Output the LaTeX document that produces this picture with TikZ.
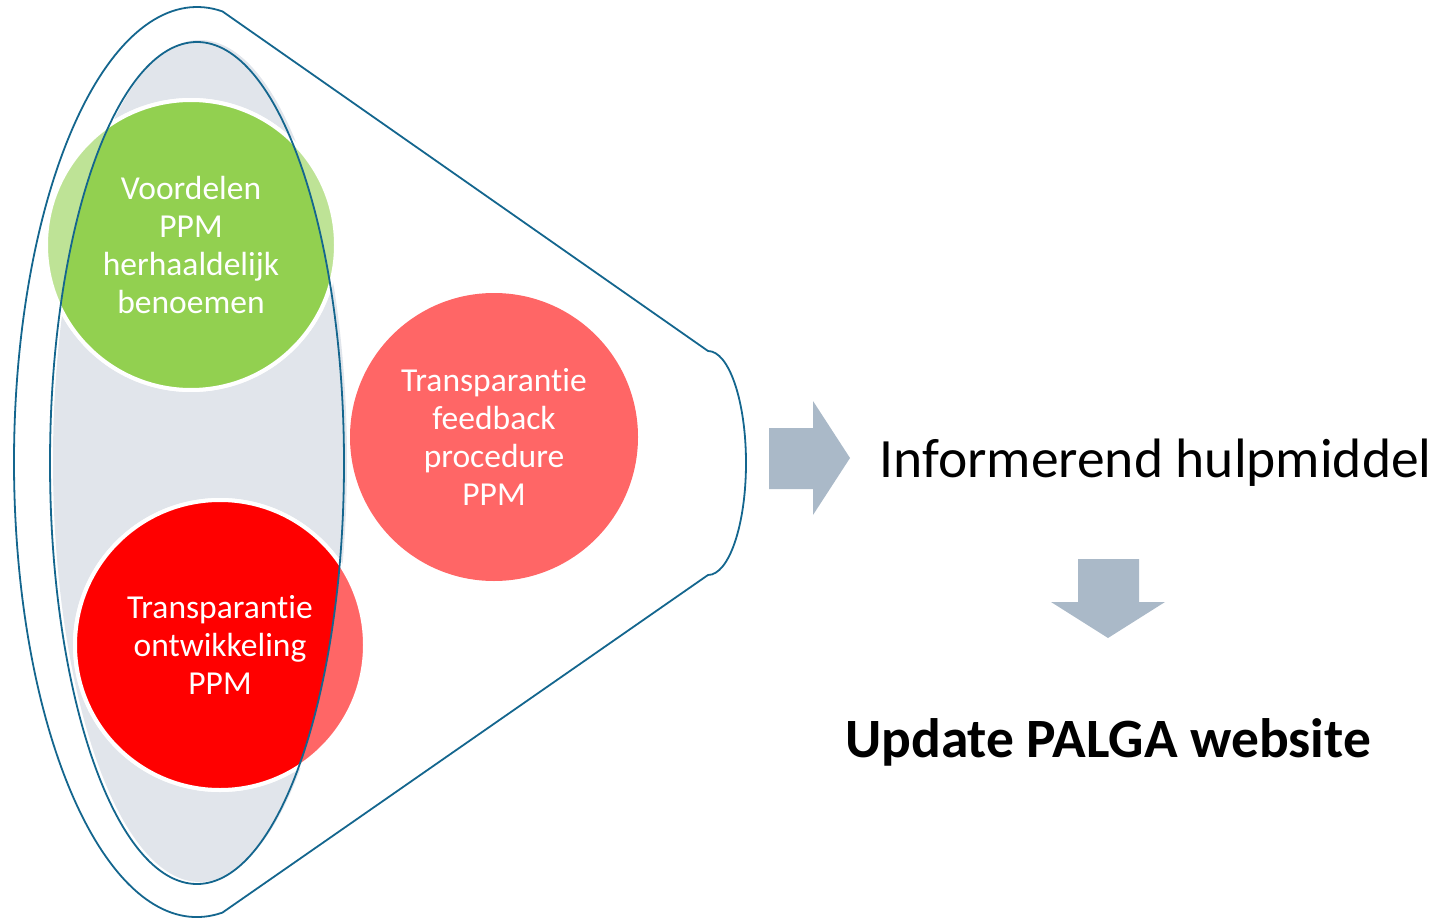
\documentclass[tikz,border=0pt]{standalone}
\usepackage{fontspec}
\setmainfont{Carlito}[Ligatures=NoCommon]
\usepackage{tikz}
\usetikzlibrary{positioning}
\definecolor{funnelline}{RGB}{20,102,142}
\definecolor{funnelgray}{RGB}{225,229,235}
\definecolor{arrowgray}{RGB}{170,185,200}
\definecolor{ppmgreen}{RGB}{146,208,80}
\definecolor{ppmgreenlt}{RGB}{190,227,150}
\definecolor{ppmred}{RGB}{255,0,0}
\definecolor{ppmredlt}{RGB}{255,102,102}
\tikzstyle{bubble} = [circle, draw=white, line width=4pt, minimum size=290pt, inner sep=0pt, text=white, align=center, font=\fontsize{33.5}{38}\selectfont]
\tikzstyle{funnel} = [draw=funnelline, line width=1.8pt]
\tikzstyle{blockarrow} = [fill=arrowgray]
\tikzstyle{result} = [text=black, font=\fontsize{55.5}{64}\selectfont]

\begin{document}
\begin{tikzpicture}[x=1pt, y=-1pt]
	\useasboundingbox (0,0) rectangle (1448,920);
	% inner funnel mouth
	\fill [funnelgray] (200,461) ellipse [x radius=147, y radius=421];
	% place nodes
	\node [bubble, fill=ppmgreenlt] (Voordelen) at (191,245) {};
	\node [bubble, fill=ppmredlt] (Ontwikkeling) at (220,645) {};
	\node [bubble, draw=none, minimum size=288pt, fill=ppmredlt] (Feedback) at (494,437)
		{Transparantie\\feedback\\procedure\\PPM};
	\begin{scope}
		\clip (197,463) ellipse [x radius=147, y radius=421];
		\node [bubble, fill=ppmgreen] at (Voordelen) {};
		\node [bubble, fill=ppmred] at (Ontwikkeling) {};
	\end{scope}
	\node [bubble, draw=none, fill=none] at (Voordelen) {Voordelen\\PPM\\herhaaldelijk\\benoemen};
	\node [bubble, draw=none, fill=none] at (Ontwikkeling) {Transparantie\\ontwikkeling\\PPM};

	% funnel outline
	\draw [funnel] (197,462) ++(82:183 and 455) arc [start angle=82, end angle=278, x radius=183, y radius=455]
		-- (708,351) arc [start angle=-90, end angle=90, x radius=38, y radius=112] -- cycle;
	\draw [funnel] (197,463) ellipse [x radius=147, y radius=421];

	% arrows and results
	\fill [blockarrow] (769,428) -- (813,428) -- (813,401) -- (850,458) -- (813,515) -- (813,489) -- (769,489) -- cycle;
	\node [result, anchor=base west] (Hulpmiddel) at (876,477) {Informerend hulpmiddel};
	\fill [blockarrow] (1078,559) -- (1139,559) -- (1139,602) -- (1165,602) -- (1108,638) -- (1051,602) -- (1078,602) -- cycle;
	\node [result, anchor=base, font=\fontsize{55.5}{64}\selectfont\bfseries] (Website) at (1108,757) {Update PALGA website};
\end{tikzpicture}
\end{document}
